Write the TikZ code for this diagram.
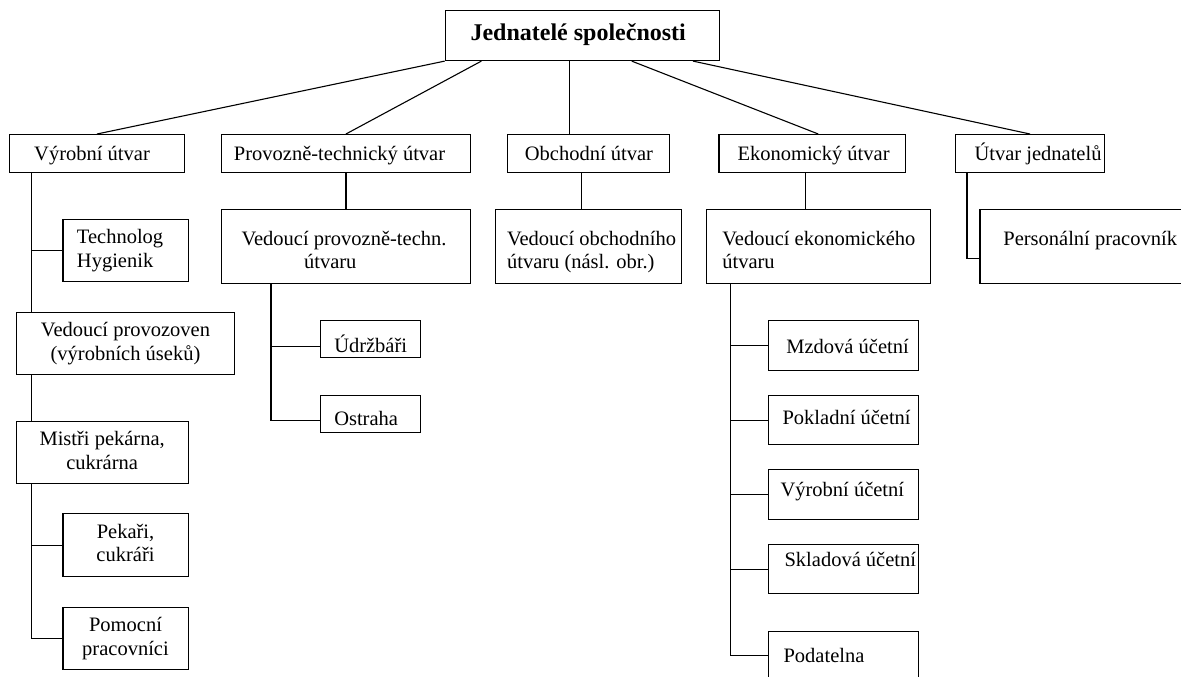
\documentclass[tikz,border=0pt]{standalone}
\usepackage{fontspec}
\setmainfont{Liberation Serif}
\usetikzlibrary{calc}
\newcommand{\fs}{\fontsize{20.5}{23.5}\selectfont}
\newcommand{\tbl}[4]{\raisebox{-#1pt}[\height][\depth]{\makebox[#2pt][l]{\begin{tabular}{@{}#3@{}}#4\end{tabular}}}}
\newcommand{\tbc}[2]{\raisebox{-#1pt}[\height][\depth]{\begin{tabular}{@{}c@{}}#2\end{tabular}}}
\tikzset{
  box/.style={draw=black, line width=1.1pt, inner sep=0pt, anchor=north west, font=\fs},
  conn/.style={draw=black, line width=1.1pt}
}
\begin{document}
\begin{tikzpicture}[x=1pt,y=-1pt]
\useasboundingbox (0,0) rectangle (1181,677);
\clip (0,0) rectangle (1181,677);
% top
\node[box, minimum width=274, minimum height=50] (top) at (444.7,10)
  {\tbl{0}{223.4}{l}{\bfseries\fontsize{24}{28}\selectfont Jednatelé společnosti}};
% level 1
\node[box, minimum width=174.5, minimum height=38] (vyr) at (9.2,134) {\tbl{2}{125.5}{l}{Výrobní útvar}};
\node[box, minimum width=249.2, minimum height=38] (pt) at (220.8,134) {\tbl{2}{224}{l}{Provozně-technický útvar}};
\node[box, minimum width=162, minimum height=38] (obc) at (507,134) {\tbl{2}{127.4}{l}{Obchodní útvar}};
\node[box, minimum width=186.6, minimum height=38] (ek) at (718.4,134) {\tbl{2}{149.4}{l}{Ekonomický útvar}};
\node[box, minimum width=149.8, minimum height=38] (uj) at (954.5,134) {\tbl{2}{110.8}{l}{Útvar jednatelů}};
% Vyrobni branch
\node[box, minimum width=125.1, minimum height=62] (tech) at (62.4,219) {\tbl{0}{97.1}{l}{Technolog\\Hygienik}};
\node[box, minimum width=218.5, minimum height=62] (vp) at (15.7,312) {\tbc{0}{Vedoucí provozoven\\(výrobních úseků)}};
\node[box, minimum width=171.8, minimum height=62] (mis) at (15.7,421) {\tbc{0}{Mistři pekárna,\\cukrárna}};
\node[box, minimum width=125.1, minimum height=63] (pek) at (62.4,513) {\tbc{0}{Pekaři,\\cukráři}};
\node[box, minimum width=125.1, minimum height=62] (pom) at (62.4,607) {\tbc{0}{Pomocní\\pracovníci}};
% Provozne branch
\node[box, minimum width=249.2, minimum height=74] (vpt) at (220.8,209) {\tbl{5.7}{208.8}{l}{Vedoucí provozně-techn.\\\hspace*{62.5pt}útvaru}};
\node[box, minimum width=99.5, minimum height=37] (udr) at (320.3,320.3) {\tbl{8}{72.7}{l}{Údržbáři}};
\node[box, minimum width=99.5, minimum height=37] (ost) at (320.3,395) {\tbl{7}{72.7}{l}{Ostraha}};
% Obchodni branch
\node[box, minimum width=186.7, minimum height=74] (vob) at (494.5,209) {\tbl{5.7}{162.7}{l}{Vedoucí obchodního\\útvaru (násl. obr.)}};
% Ekonomicky branch
\node[box, minimum width=224, minimum height=74] (vek) at (706,209) {\tbl{5.7}{192.4}{l}{Vedoucí ekonomického\\útvaru}};
\node[box, minimum width=149.9, minimum height=49.7] (mzd) at (767.8,320.3) {\tbl{3}{113.9}{l}{Mzdová účetní}};
\node[box, minimum width=149.9, minimum height=49.3] (pok) at (767.8,395) {\tbl{0}{121.5}{l}{Pokladní účetní}};
\node[box, minimum width=149.9, minimum height=49.4] (vyu) at (767.8,469.3) {\tbl{-3}{125.5}{l}{Výrobní účetní}};
\node[box, minimum width=149.9, minimum height=49.3] (skl) at (767.8,544) {\tbl{-7}{117.5}{l}{Skladová účetní}};
\node[box, minimum width=149.9, minimum height=49.3] (pod) at (767.8,630.7) {\tbl{2}{119.5}{l}{Podatelna}};
% Utvar jednatelu branch
\node[box, minimum width=230, minimum height=74] (per) at (979.4,209) {\tbl{-6}{183.2}{l}{Personální pracovník}};

% connectors from top
\draw[conn] (top.south west) -- (vyr.north);
\draw[conn] ($(top.south west)+(36.7,0)$) -- (pt.north);
\draw[conn] ($(top.south west)+(124.8,0)$) -- ($(obc.north west)+(62.5,0)$);
\draw[conn] ($(top.south west)+(187,0)$) -- ($(ek.north)+(6,0)$);
\draw[conn] ($(top.south west)+(248.3,0)$) -- (uj.north);
% Vyrobni tree
\coordinate (vyrL) at ($(vyr.south west)+(22.6,0)$);
\draw[conn] (vyrL) -- (vyrL |- vp.north);
\draw[conn] (vyrL |- tech.west) -- (tech.west);
\draw[conn] (vp.south -| vyrL) -- (vyrL |- mis.north);
\draw[conn] (mis.south -| vyrL) |- (pek.west);
\draw[conn] (mis.south -| vyrL) |- (pom.west);
% Provozne tree
\draw[conn] (pt.south) -- (vpt.north);
\coordinate (vptL) at ($(vpt.south west)+(50.2,0)$);
\coordinate (udrB) at ($(udr.south west)+(0,-12)$);
\coordinate (ostB) at ($(ost.south west)+(0,-13)$);
\draw[conn] (vptL) |- (udrB);
\draw[conn] (vptL) |- (ostB);
% Obchodni
\coordinate (obcL) at ($(obc.south west)+(74.7,0)$);
\draw[conn] (obcL) -- (obcL |- vob.north);
% Ekonomicky
\coordinate (ekL) at ($(ek.south west)+(87,0)$);
\draw[conn] (ekL) -- (ekL |- vek.north);
\coordinate (vekL) at ($(vek.south west)+(24.6,0)$);
\draw[conn] (vekL) |- (mzd.west);
\draw[conn] (vekL) |- (pok.west);
\draw[conn] (vekL) |- (vyu.west);
\draw[conn] (vekL) |- (skl.west);
\draw[conn] (vekL) |- (pod.west);
% Utvar jednatelu
\coordinate (ujL) at ($(uj.south west)+(12.5,0)$);
\draw[conn] (ujL) |- ($(per.south west)+(0,-25.3)$);
\end{tikzpicture}
\end{document}
